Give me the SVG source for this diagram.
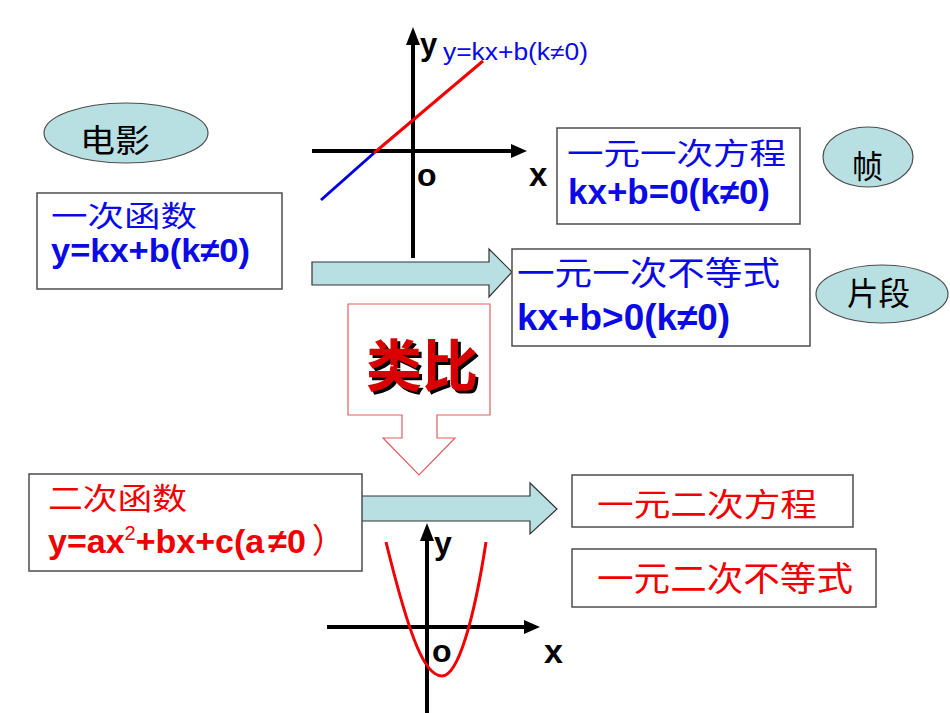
<svg xmlns="http://www.w3.org/2000/svg" width="950" height="713" viewBox="0 0 950 713">
<style>
.box{fill:#fff;stroke:#4d4d4d;stroke-width:1.5}
.ell{fill:#b8dfe2;stroke:#4d4d4d;stroke-width:1.2}
.cn{font-family:"Noto Sans CJK SC",sans-serif}
.f{font-family:"Liberation Sans",Arial,sans-serif;font-weight:bold}
.blue{fill:#0a0ae6}
.red{fill:#f00000}
.ax{stroke:#000;stroke-width:4;fill:none}
.head{fill:#000}
.arr{fill:#b8dfe2;stroke:#333;stroke-width:1.2}
</style>
<defs>
  <filter id="shadow" x="-10%" y="-10%" width="130%" height="130%">
    <feOffset in="SourceAlpha" dx="3" dy="3" result="off"/>
    <feFlood flood-color="#000"/>
    <feComposite in2="off" operator="in" result="sh"/>
    <feMerge><feMergeNode in="sh"/><feMergeNode in="SourceGraphic"/></feMerge>
  </filter>
</defs>
<rect width="950" height="713" fill="#fff"/>

<g id="graph1">
  <line class="ax" x1="413" y1="258" x2="413" y2="40"/>
  <polygon class="head" points="413,27 406,45 420,45"/>
  <line class="ax" x1="312" y1="151" x2="515" y2="151"/>
  <polygon class="head" points="527,151 511,144 511,158"/>
  <line x1="321" y1="200" x2="374" y2="153" stroke="#0000e0" stroke-width="3"/>
  <line x1="374" y1="153" x2="483" y2="61" stroke="#f00000" stroke-width="3"/>
  <text class="f" x="420" y="55" font-size="31">y</text>
  <text x="443" y="60" font-size="23" font-family="Liberation Sans,Arial,sans-serif" class="blue" textLength="145" lengthAdjust="spacingAndGlyphs">y=kx+b(k≠0)</text>
  <text class="f" x="417" y="186" font-size="32">o</text>
  <text class="f" x="529" y="186" font-size="33">x</text>
</g>

<g id="connectors">
  <polygon class="arr" points="312,262 489,262 489,249 512,272 489,297 489,285 312,285"/>
  <polygon class="arr" points="356,496 530,496 530,483 557,509 530,534 530,521 356,521"/>
</g>

<g id="graph2">
  <line class="ax" x1="427" y1="713" x2="427" y2="537"/>
  <polygon class="head" points="427,523 420,541 434,541"/>
  <line class="ax" x1="327" y1="627" x2="528" y2="627"/>
  <polygon class="head" points="540,627 524,620 524,634"/>
  <path d="M386,542 C410,640 425,676 442,676 C458,676 474,620 486,542" fill="none" stroke="#f00000" stroke-width="3"/>
  <text class="f" x="434" y="554" font-size="32">y</text>
  <text class="f" x="432" y="662" font-size="32">o</text>
  <text class="f" x="544" y="663" font-size="34">x</text>
</g>

<g id="movie">
  <ellipse class="ell" cx="126" cy="133" rx="82" ry="30"/>
  <text class="cn" x="80" y="152" font-size="32" textLength="70" lengthAdjust="spacingAndGlyphs">电影</text>
</g>

<g id="frame">
  <ellipse class="ell" cx="868" cy="157" rx="45" ry="30"/>
  <text class="cn" x="852" y="178" font-size="32" textLength="31" lengthAdjust="spacingAndGlyphs">帧</text>
</g>

<g id="clip">
  <ellipse class="ell" cx="882" cy="294" rx="66" ry="29"/>
  <text class="cn" x="847" y="305" font-size="32" textLength="63" lengthAdjust="spacingAndGlyphs">片段</text>
</g>

<g id="linear-func">
  <rect class="box" x="37" y="193" width="245" height="96"/>
  <text class="cn blue" x="51" y="227" font-size="29" textLength="146" lengthAdjust="spacingAndGlyphs">一次函数</text>
  <text class="f blue" x="51" y="262" font-size="34" textLength="199" lengthAdjust="spacingAndGlyphs">y=kx+b(k≠0)</text>
</g>

<g id="linear-eq">
  <rect class="box" x="557" y="128" width="243" height="96"/>
  <text class="cn blue" x="567" y="164" font-size="30" textLength="219" lengthAdjust="spacingAndGlyphs">一元一次方程</text>
  <text class="f blue" x="568" y="204" font-size="35" textLength="202" lengthAdjust="spacingAndGlyphs">kx+b=0(k≠0)</text>
</g>

<g id="linear-ineq">
  <rect class="box" x="512" y="249" width="298" height="97"/>
  <text class="cn blue" x="517" y="285" font-size="33" textLength="263" lengthAdjust="spacingAndGlyphs">一元一次不等式</text>
  <text class="f blue" x="517" y="330" font-size="37" textLength="213" lengthAdjust="spacingAndGlyphs">kx+b&gt;0(k≠0)</text>
</g>

<g id="analogy">
  <path d="M348,304 H490 V415 H437 V438 H455 L419,475 L383,438 H402 V415 H348 Z" fill="#fff" stroke="#e06060" stroke-width="1.2"/>
  <text class="cn" x="366" y="386" font-size="56" font-weight="bold" fill="#d80000" filter="url(#shadow)" textLength="112" lengthAdjust="spacingAndGlyphs">类比</text>
</g>

<g id="quad-func">
  <rect class="box" x="29" y="474" width="333" height="97"/>
  <text class="cn red" x="48" y="509" font-size="30" textLength="139" lengthAdjust="spacingAndGlyphs">二次函数</text>
  <text class="f red" x="48" y="553" font-size="34">y=ax<tspan font-size="20" font-weight="normal" dy="-13">2</tspan><tspan dy="13">+bx+c(a</tspan><tspan dx="4">≠0</tspan><tspan class="cn" font-weight="normal" dx="6">）</tspan></text>
</g>

<g id="quad-eq">
  <rect class="box" x="572" y="475" width="281" height="52"/>
  <text class="cn red" x="597" y="516" font-size="32" textLength="220" lengthAdjust="spacingAndGlyphs">一元二次方程</text>
</g>

<g id="quad-ineq">
  <rect class="box" x="572" y="549" width="304" height="58"/>
  <text class="cn red" x="597" y="591" font-size="34" textLength="256" lengthAdjust="spacingAndGlyphs">一元二次不等式</text>
</g>
</svg>
